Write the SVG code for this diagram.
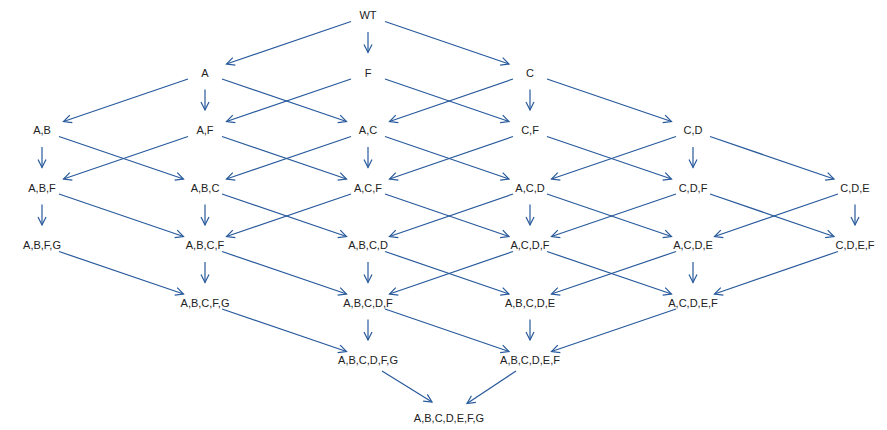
<svg xmlns="http://www.w3.org/2000/svg" width="887" height="430" viewBox="0 0 887 430">
<defs>
<marker id="ah" markerUnits="userSpaceOnUse" markerWidth="12" markerHeight="12" refX="0" refY="0" viewBox="-10 -6 12 12" orient="auto" overflow="visible">
<path d="M-8,-4 L0,0 L-8,4" fill="none" stroke="#27599b" stroke-width="1.2"/>
</marker>
</defs>
<style>
.e line{stroke:#27599b;stroke-width:1.2;fill:none;marker-end:url(#ah)}
text{font-family:"Liberation Sans",Arial,sans-serif;font-size:11px;fill:#222;text-anchor:middle;dominant-baseline:central}
</style>
<rect width="887" height="430" fill="#fff"/>
<g id="connectors" class="e">
<!-- row0 -> row1 -->
<line x1="351" y1="21.5" x2="226.5" y2="64"/>
<line x1="368" y1="32" x2="368" y2="52.5"/>
<line x1="385" y1="21.5" x2="509" y2="64"/>
<!-- row1 -> row2 -->
<line x1="188" y1="79" x2="63.5" y2="121.5"/>
<line x1="205" y1="89.5" x2="205" y2="110"/>
<line x1="222" y1="79" x2="346.5" y2="121.5"/>
<line x1="351" y1="79" x2="226.5" y2="121.5"/>
<line x1="385" y1="79" x2="509" y2="121.5"/>
<line x1="513" y1="79" x2="389.5" y2="121.5"/>
<line x1="530" y1="89.5" x2="530" y2="110"/>
<line x1="547" y1="79" x2="671.5" y2="121.5"/>
<!-- row2 -> row3 -->
<line x1="42" y1="147" x2="42" y2="167.5"/>
<line x1="59" y1="136.5" x2="183.5" y2="179"/>
<line x1="188" y1="136.5" x2="63.5" y2="179"/>
<line x1="222" y1="136.5" x2="346.5" y2="179"/>
<line x1="351" y1="136.5" x2="226.5" y2="179"/>
<line x1="368" y1="147" x2="368" y2="167.5"/>
<line x1="385" y1="136.5" x2="509" y2="179"/>
<line x1="513" y1="136.5" x2="389.5" y2="179"/>
<line x1="547" y1="136.5" x2="671.5" y2="179"/>
<line x1="676" y1="136.5" x2="551.5" y2="179"/>
<line x1="693" y1="147" x2="693" y2="167.5"/>
<line x1="710" y1="136.5" x2="834" y2="179"/>
<!-- row3 -> row4 -->
<line x1="42" y1="204.5" x2="42" y2="225"/>
<line x1="59" y1="194" x2="183.5" y2="236.5"/>
<line x1="205" y1="204.5" x2="205" y2="225"/>
<line x1="222" y1="194" x2="346.5" y2="236.5"/>
<line x1="351" y1="194" x2="226.5" y2="236.5"/>
<line x1="385" y1="194" x2="509" y2="236.5"/>
<line x1="513" y1="194" x2="389.5" y2="236.5"/>
<line x1="530" y1="204.5" x2="530" y2="225"/>
<line x1="547" y1="194" x2="671.5" y2="236.5"/>
<line x1="676" y1="194" x2="551.5" y2="236.5"/>
<line x1="710" y1="194" x2="834" y2="236.5"/>
<line x1="838" y1="194" x2="714.5" y2="236.5"/>
<line x1="855" y1="204.5" x2="855" y2="225"/>
<!-- row4 -> row5 -->
<line x1="59" y1="251.5" x2="183.5" y2="294"/>
<line x1="205" y1="262" x2="205" y2="282.5"/>
<line x1="222" y1="251.5" x2="346.5" y2="294"/>
<line x1="368" y1="262" x2="368" y2="282.5"/>
<line x1="385" y1="251.5" x2="509" y2="294"/>
<line x1="513" y1="251.5" x2="389.5" y2="294"/>
<line x1="547" y1="251.5" x2="671.5" y2="294"/>
<line x1="676" y1="251.5" x2="551.5" y2="294"/>
<line x1="693" y1="262" x2="693" y2="282.5"/>
<line x1="838" y1="251.5" x2="714.5" y2="294"/>
<!-- row5 -> row6 -->
<line x1="222" y1="309" x2="346.5" y2="351.5"/>
<line x1="368" y1="319.5" x2="368" y2="340"/>
<line x1="385" y1="309" x2="509" y2="351.5"/>
<line x1="530" y1="319.5" x2="530" y2="340"/>
<line x1="676" y1="309" x2="551.5" y2="351.5"/>
<!-- row6 -> row7 -->
<line x1="382" y1="371" x2="432" y2="402"/>
<line x1="516" y1="371" x2="467" y2="403.5"/>
</g>
<g id="n-WT"><text x="368" y="15">WT</text></g>
<g id="n-A"><text x="205" y="72.5">A</text></g>
<g id="n-F"><text x="368" y="72.5">F</text></g>
<g id="n-C"><text x="530" y="72.5">C</text></g>
<g id="n-AB"><text x="42" y="130">A,B</text></g>
<g id="n-AF"><text x="205" y="130">A,F</text></g>
<g id="n-AC"><text x="368" y="130">A,C</text></g>
<g id="n-CF"><text x="530" y="130">C,F</text></g>
<g id="n-CD"><text x="693" y="130">C,D</text></g>
<g id="n-ABF"><text x="42" y="187.5">A,B,F</text></g>
<g id="n-ABC"><text x="205" y="187.5">A,B,C</text></g>
<g id="n-ACF"><text x="368" y="187.5">A,C,F</text></g>
<g id="n-ACD"><text x="530" y="187.5">A,C,D</text></g>
<g id="n-CDF"><text x="693" y="187.5">C,D,F</text></g>
<g id="n-CDE"><text x="855" y="187.5">C,D,E</text></g>
<g id="n-ABFG"><text x="42" y="245">A,B,F,G</text></g>
<g id="n-ABCF"><text x="205" y="245">A,B,C,F</text></g>
<g id="n-ABCD"><text x="368" y="245">A,B,C,D</text></g>
<g id="n-ACDF"><text x="530" y="245">A,C,D,F</text></g>
<g id="n-ACDE"><text x="693" y="245">A,C,D,E</text></g>
<g id="n-CDEF"><text x="855" y="245">C,D,E,F</text></g>
<g id="n-ABCFG"><text x="205" y="302.5">A,B,C,F,G</text></g>
<g id="n-ABCDF"><text x="368" y="302.5">A,B,C,D,F</text></g>
<g id="n-ABCDE"><text x="530" y="302.5">A,B,C,D,E</text></g>
<g id="n-ACDEF"><text x="693" y="302.5">A,C,D,E,F</text></g>
<g id="n-ABCDFG"><text x="368" y="359.5">A,B,C,D,F,G</text></g>
<g id="n-ABCDEF"><text x="530" y="359.5">A,B,C,D,E,F</text></g>
<g id="n-ABCDEFG"><text x="449" y="417.5">A,B,C,D,E,F,G</text></g>
</svg>
